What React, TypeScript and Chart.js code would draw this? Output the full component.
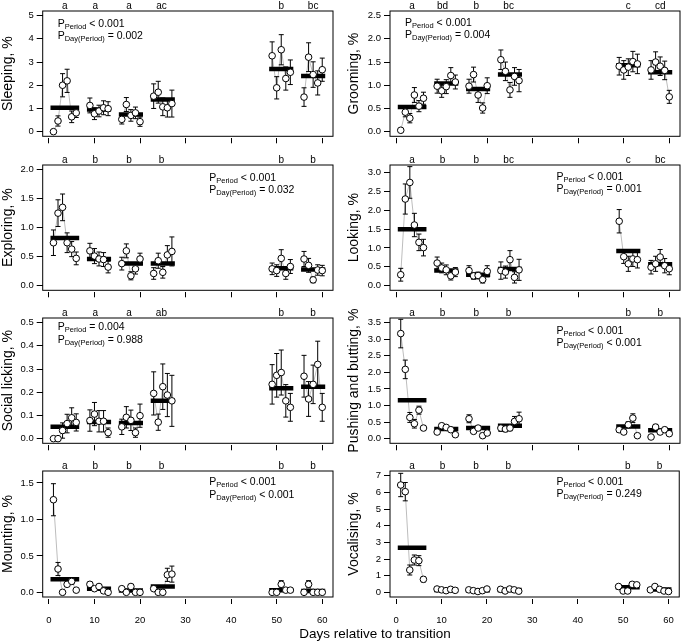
import React, { useEffect, useRef } from "react";
import { Chart, registerables } from "chart.js";

Chart.register(...registerables);

const FONT = '"Liberation Sans", Arial, Helvetica, sans-serif';
Chart.defaults.font.family = FONT;

// ---------------- data ----------------
const dayGroups = [
  [1, 2, 3, 4, 5, 6],
  [9, 10, 11, 12, 13],
  [16, 17, 18, 19, 20],
  [23, 24, 25, 26, 27],
  [49, 50, 51, 52, 53],
  [56, 57, 58, 59, 60],
];
const xTickValues = [0, 10, 20, 30, 40, 50, 60];
const letterPositions = [3.5, 10.2, 17.6, 24.7, 51, 58];
const xAxisTitle = "Days relative to transition";

const sleepingValues = [0, 0.46, 2.0, 2.19, 0.64, 0.81, 1.13, 0.77, 0.89, 1.03, 0.99, 0.53, 1.17, 0.7, 0.81, 0.43, 1.53, 1.7, 1.07, 1.03, 1.21, 3.27, 1.89, 3.53, 2.29, 2.56, 1.49, 3.21, 2.46, 2.1, 2.67];
const sleepingSE = [0, 0.22, 0.5, 0.5, 0.25, 0.2, 0.32, 0.25, 0.25, 0.3, 0.3, 0.2, 0.3, 0.25, 0.25, 0.2, 0.53, 0.47, 0.38, 0.4, 0.58, 0.6, 0.48, 0.65, 0.5, 0.53, 0.4, 0.62, 0.55, 0.52, 0.5];
const sleepingPeriodMeans = [1.03, 0.96, 0.74, 1.39, 2.7, 2.4];
const sleepingLetters = ["a", "a", "a", "ac", "b", "bc"];
const sleepingTicks = [0, 1, 2, 3, 4, 5];
const sleepingP = ["< 0.001", "= 0.002"];

const groomingValues = [0.03, 0.42, 0.29, 0.79, 0.55, 0.72, 0.98, 0.88, 0.97, 1.21, 1.07, 0.98, 1.23, 0.79, 0.51, 0.99, 1.55, 1.3, 0.9, 1.19, 1.1, 1.41, 1.33, 1.39, 1.51, 1.46, 1.33, 1.5, 1.41, 1.32, 0.75];
const groomingSE = [0.02, 0.1, 0.1, 0.16, 0.12, 0.13, 0.15, 0.14, 0.15, 0.17, 0.15, 0.15, 0.16, 0.16, 0.11, 0.17, 0.21, 0.2, 0.16, 0.19, 0.24, 0.19, 0.2, 0.18, 0.22, 0.21, 0.2, 0.22, 0.2, 0.2, 0.14];
const groomingPeriodMeans = [0.53, 1.04, 0.92, 1.23, 1.43, 1.28];
const groomingLetters = ["a", "bd", "b", "bc", "c", "cd"];
const groomingTicks = [0, 0.5, 1, 1.5, 2, 2.5];
const groomingP = ["< 0.001", "= 0.004"];

const exploringValues = [0.74, 1.25, 1.35, 0.74, 0.63, 0.47, 0.6, 0.51, 0.46, 0.45, 0.32, 0.38, 0.6, 0.17, 0.29, 0.46, 0.21, 0.43, 0.23, 0.53, 0.59, 0.29, 0.26, 0.47, 0.21, 0.33, 0.46, 0.35, 0.1, 0.27, 0.26];
const exploringSE = [0.22, 0.23, 0.23, 0.17, 0.13, 0.11, 0.13, 0.13, 0.12, 0.12, 0.1, 0.11, 0.12, 0.07, 0.09, 0.1, 0.1, 0.13, 0.1, 0.16, 0.25, 0.1, 0.1, 0.15, 0.1, 0.12, 0.13, 0.12, 0.05, 0.09, 0.09];
const exploringPeriodMeans = [0.82, 0.46, 0.38, 0.38, 0.3, 0.28];
const exploringLetters = ["a", "b", "b", "b", "b", "b"];
const exploringTicks = [0, 0.5, 1, 1.5, 2];
const exploringP = ["< 0.001", "= 0.032"];

const lookingValues = [0.29, 2.3, 2.74, 1.61, 1.15, 1.01, 0.6, 0.47, 0.42, 0.26, 0.36, 0.4, 0.26, 0.27, 0.16, 0.38, 0.4, 0.36, 0.69, 0.22, 0.42, 1.71, 0.77, 0.58, 0.71, 0.69, 0.49, 0.58, 0.76, 0.53, 0.45];
const lookingSE = [0.17, 0.4, 0.42, 0.31, 0.22, 0.22, 0.16, 0.13, 0.13, 0.11, 0.12, 0.13, 0.09, 0.09, 0.09, 0.15, 0.23, 0.16, 0.24, 0.15, 0.28, 0.31, 0.18, 0.2, 0.2, 0.22, 0.18, 0.2, 0.2, 0.19, 0.16];
const lookingPeriodMeans = [1.5, 0.4, 0.29, 0.44, 0.92, 0.57];
const lookingLetters = ["a", "b", "b", "bc", "c", "bc"];
const lookingTicks = [0, 0.5, 1, 1.5, 2, 2.5, 3];
const lookingP = ["< 0.001", "= 0.001"];

const lickingValues = [0, 0, 0.035, 0.065, 0.09, 0.07, 0.078, 0.106, 0.075, 0.075, 0.026, 0.051, 0.092, 0.079, 0.026, 0.099, 0.195, 0.071, 0.224, 0.188, 0.163, 0.234, 0.273, 0.285, 0.163, 0.135, 0.269, 0.171, 0.234, 0.32, 0.135];
const lickingSE = [0, 0, 0.033, 0.04, 0.043, 0.037, 0.046, 0.05, 0.046, 0.046, 0.02, 0.033, 0.046, 0.044, 0.02, 0.05, 0.093, 0.035, 0.098, 0.093, 0.11, 0.085, 0.094, 0.097, 0.07, 0.06, 0.09, 0.075, 0.083, 0.1, 0.06];
const lickingPeriodMeans = [0.051, 0.072, 0.068, 0.163, 0.217, 0.224];
const lickingLetters = ["a", "a", "a", "ab", "b", "b"];
const lickingTicks = [0, 0.1, 0.2, 0.3, 0.4, 0.5];
const lickingP = ["= 0.004", "= 0.988"];

const pushingValues = [3.17, 2.09, 0.64, 0.45, 0.86, 0.32, 0.2, 0.39, 0.34, 0.27, 0.12, 0.6, 0.22, 0.32, 0.09, 0.17, 0.32, 0.29, 0.32, 0.52, 0.6, 0.27, 0.2, 0.42, 0.62, 0.09, 0.05, 0.35, 0.2, 0.27, 0.15];
const pushingSE = [0.43, 0.28, 0.15, 0.13, 0.12, 0.07, 0.05, 0.07, 0.06, 0.05, 0.04, 0.12, 0.06, 0.07, 0.04, 0.05, 0.1, 0.08, 0.08, 0.15, 0.2, 0.07, 0.06, 0.09, 0.13, 0.04, 0.03, 0.08, 0.06, 0.07, 0.05];
const pushingPeriodMeans = [1.16, 0.29, 0.32, 0.39, 0.37, 0.25];
const pushingLetters = ["a", "b", "b", "b", "b", "b"];
const pushingTicks = [0, 0.5, 1, 1.5, 2, 2.5, 3, 3.5];
const pushingP = ["< 0.001", "< 0.001"];

const mountingValues = [1.27, 0.32, 0, 0.11, 0.15, 0.03, 0.11, 0.05, 0.08, 0.02, 0, 0.05, 0, 0.08, 0, 0, 0.05, 0, 0, 0.24, 0.25, 0, 0, 0.11, 0.03, 0.03, 0, 0.11, 0, 0, 0];
const mountingSE = [0.22, 0.09, 0, 0.03, 0.04, 0.02, 0.03, 0.02, 0.03, 0.01, 0, 0.02, 0, 0.03, 0, 0, 0.02, 0, 0, 0.09, 0.11, 0, 0, 0.05, 0.02, 0.02, 0, 0.05, 0, 0, 0];
const mountingPeriodMeans = [0.18, 0.05, 0.024, 0.08, 0.03, 0.02];
const mountingLetters = ["a", "b", "b", "b", "b", "b"];
const mountingTicks = [0, 0.5, 1, 1.5];
const mountingP = ["< 0.001", "< 0.001"];

const vocalisingValues = [6.44, 6.04, 1.34, 1.94, 1.9, 0.78, 0.2, 0.15, 0.1, 0.18, 0.12, 0.15, 0.1, 0.05, 0.1, 0.2, 0.18, 0.08, 0.2, 0.15, 0.07, 0.35, 0.08, 0.08, 0.48, 0.45, 0.15, 0.35, 0.18, 0.08, 0.05];
const vocalisingSE = [0.7, 0.55, 0.3, 0.3, 0.3, 0.15, 0.05, 0.04, 0.03, 0.05, 0.03, 0.04, 0.03, 0.02, 0.03, 0.05, 0.05, 0.02, 0.05, 0.04, 0.02, 0.08, 0.03, 0.03, 0.1, 0.1, 0.04, 0.08, 0.05, 0.03, 0.02];
const vocalisingPeriodMeans = [2.68, 0.14, 0.13, 0.14, 0.3, 0.17];
const vocalisingLetters = ["a", "b", "b", "b", "b", "b"];
const vocalisingTicks = [0, 1, 2, 3, 4, 5, 6, 7];
const vocalisingP = ["< 0.001", "= 0.249"];

// ---------------- panel definitions ----------------
type PanelDef = {
  title: string;
  values: number[];
  se: number[];
  periodMeans: number[];
  letters: string[];
  ticks: number[];
  yTop: number;
  decimals: number;
  p: string[];
  row: number;
  col: number;
  pRight: boolean;
  pDy: number;
};

const panels: PanelDef[] = [
  { title: "Sleeping, %", values: sleepingValues, se: sleepingSE, periodMeans: sleepingPeriodMeans, letters: sleepingLetters, ticks: sleepingTicks, yTop: 5, decimals: 0, p: sleepingP, row: 0, col: 0, pRight: false, pDy: 13 },
  { title: "Grooming, %", values: groomingValues, se: groomingSE, periodMeans: groomingPeriodMeans, letters: groomingLetters, ticks: groomingTicks, yTop: 2.5, decimals: 1, p: groomingP, row: 0, col: 1, pRight: false, pDy: 12 },
  { title: "Exploring, %", values: exploringValues, se: exploringSE, periodMeans: exploringPeriodMeans, letters: exploringLetters, ticks: exploringTicks, yTop: 2, decimals: 1, p: exploringP, row: 1, col: 0, pRight: true, pDy: 13 },
  { title: "Looking, %", values: lookingValues, se: lookingSE, periodMeans: lookingPeriodMeans, letters: lookingLetters, ticks: lookingTicks, yTop: 3.08, decimals: 1, p: lookingP, row: 1, col: 1, pRight: true, pDy: 12 },
  { title: "Social licking, %", values: lickingValues, se: lickingSE, periodMeans: lickingPeriodMeans, letters: lickingLetters, ticks: lickingTicks, yTop: 0.5, decimals: 1, p: lickingP, row: 2, col: 0, pRight: false, pDy: 9.5 },
  { title: "Pushing and butting, %", values: pushingValues, se: pushingSE, periodMeans: pushingPeriodMeans, letters: pushingLetters, ticks: pushingTicks, yTop: 3.5, decimals: 1, p: pushingP, row: 2, col: 1, pRight: true, pDy: 13 },
  { title: "Mounting, %", values: mountingValues, se: mountingSE, periodMeans: mountingPeriodMeans, letters: mountingLetters, ticks: mountingTicks, yTop: 1.6, decimals: 1, p: mountingP, row: 3, col: 0, pRight: true, pDy: 11.5 },
  { title: "Vocalising, %", values: vocalisingValues, se: vocalisingSE, periodMeans: vocalisingPeriodMeans, letters: vocalisingLetters, ticks: vocalisingTicks, yTop: 7, decimals: 0, p: vocalisingP, row: 3, col: 1, pRight: true, pDy: 11 },
];

// ---------------- layout ----------------
const COLS = [
  { left: 0, width: 340, yAxisW: 42.7, padRight: 7 },
  { left: 346, width: 339, yAxisW: 44, padRight: 2.5 },
];
const ROW_BOX_TOPS = [11, 164.5, 317.5, 471];
const BOX_H = 126;
const TOP_PAD = 11;
const X_MIN = -1.36;
const X_MAX = 62.36;

const boxPlugin = {
  id: "rBox",
  afterDatasetsDraw(chart: any) {
    const { ctx, chartArea } = chart;
    ctx.save();
    ctx.strokeStyle = "#000";
    ctx.lineWidth = 1;
    ctx.strokeRect(chartArea.left, chartArea.top, chartArea.right - chartArea.left, chartArea.bottom - chartArea.top);
    ctx.restore();
  },
};

// significance letters above the plot, placed through the x scale
const lettersPlugin = {
  id: "sigLetters",
  afterDraw(chart: any, _args: any, opts: any) {
    const { ctx, chartArea, scales } = chart;
    ctx.save();
    ctx.fillStyle = "#000";
    ctx.font = `10px ${FONT}`;
    ctx.textAlign = "center";
    ctx.textBaseline = "alphabetic";
    opts.letters.forEach((l: string, i: number) => {
      ctx.fillText(l, scales.x.getPixelForValue(letterPositions[i]), chartArea.top - 2.5);
    });
    ctx.restore();
  },
};

const pTextPlugin = {
  id: "pText",
  afterDatasetsDraw(chart: any, _args: any, opts: any) {
    const { ctx, chartArea } = chart;
    const x0 = chartArea.left + (opts.right ? 166.5 : 15);
    const subs = ["Period", "Day(Period)"];
    ctx.save();
    ctx.fillStyle = "#000";
    ctx.textBaseline = "middle";
    ctx.textAlign = "left";
    opts.lines.forEach((rest: string, i: number) => {
      const y = chartArea.top + opts.dy + i * 12.5;
      let x = x0;
      ctx.font = `10.5px ${FONT}`;
      ctx.fillText("P", x, y);
      x += ctx.measureText("P").width;
      ctx.font = `7.5px ${FONT}`;
      ctx.fillText(subs[i], x, y + 2.5);
      x += ctx.measureText(subs[i]).width;
      ctx.font = `10.5px ${FONT}`;
      ctx.fillText(" " + rest, x, y);
    });
    ctx.restore();
  },
};

function buildDatasets(p: PanelDef) {
  const points: any[] = [];
  const grey: any[] = [];
  const errs: any[] = [];
  const bars: any[] = [];
  let k = 0;
  dayGroups.forEach((g, j) => {
    g.forEach((d) => {
      const v = p.values[k];
      const s = p.se[k];
      points.push({ x: d, y: v });
      grey.push({ x: d, y: v });
      errs.push({ x: d, y: v - s }, { x: d, y: v + s }, { x: d, y: null });
      k++;
    });
    const last = g[g.length - 1];
    grey.push({ x: last + 0.5, y: null });
    bars.push({ x: g[0] - 0.65, y: p.periodMeans[j] }, { x: last + 0.65, y: p.periodMeans[j] }, { x: last + 0.65, y: null });
  });
  return [
    {
      data: points,
      showLine: false,
      pointRadius: 3.3,
      pointBackgroundColor: "#fff",
      pointBorderColor: "#000",
      pointBorderWidth: 1,
      order: 0,
    },
    {
      data: bars,
      showLine: true,
      spanGaps: false,
      borderColor: "#000",
      borderWidth: 4.5,
      borderCapStyle: "butt",
      pointRadius: 0,
      order: 1,
    },
    {
      data: errs,
      showLine: true,
      spanGaps: false,
      borderColor: "#000",
      borderWidth: 1,
      pointStyle: "line",
      pointRadius: 2.5,
      pointBorderColor: "#000",
      pointBorderWidth: 1,
      order: 2,
    },
    {
      data: grey,
      showLine: true,
      spanGaps: false,
      borderColor: "#bdbdbd",
      borderWidth: 1,
      pointRadius: 0,
      order: 3,
    },
  ];
}

function Panel({ p }: { p: PanelDef }) {
  const ref = useRef<HTMLCanvasElement | null>(null);
  const col = COLS[p.col];
  const bottomRow = p.row === 3;
  const xAxisH = bottomRow ? 30 : 8;
  const top = ROW_BOX_TOPS[p.row] - TOP_PAD;
  const height = TOP_PAD + BOX_H + xAxisH;

  useEffect(() => {
    if (!ref.current) return;
    const pad = p.yTop * 0.04;
    const chart = new Chart(ref.current, {
      type: "scatter",
      data: { datasets: buildDatasets(p) as any },
      plugins: [boxPlugin, pTextPlugin, lettersPlugin],
      options: {
        animation: false,
        responsive: true,
        maintainAspectRatio: false,
        events: [],
        layout: { padding: { left: 0, right: col.padRight, top: TOP_PAD, bottom: 0 } },
        plugins: {
          legend: { display: false },
          tooltip: { enabled: false },
          pText: { lines: p.p, right: p.pRight, dy: p.pDy },
          sigLetters: { letters: p.letters },
        } as any,
        scales: {
          x: {
            type: "linear",
            position: "bottom",
            min: X_MIN,
            max: X_MAX,
            afterBuildTicks: (s: any) => {
              s.ticks = xTickValues.map((v) => ({ value: v }));
            },
            afterFit: (s: any) => {
              s.height = xAxisH;
            },
            grid: { drawOnChartArea: false, drawTicks: true, tickLength: 7, color: "#000", lineWidth: 1 },
            border: { display: true, width: 4, color: "rgba(0,0,0,0)" },
            ticks: {
              display: bottomRow,
              padding: 11,
              color: "#000",
              font: { size: 9.5, family: FONT },
              maxRotation: 0,
              autoSkip: false,
              callback: (v: any) => String(v),
            },
          },
          y: {
            type: "linear",
            min: -pad,
            max: p.yTop + pad,
            afterBuildTicks: (s: any) => {
              s.ticks = p.ticks.map((v) => ({ value: v }));
            },
            afterFit: (s: any) => {
              s.width = col.yAxisW;
            },
            grid: { drawOnChartArea: false, drawTicks: true, tickLength: 6, color: "#000", lineWidth: 1 },
            border: { display: false },
            ticks: {
              padding: 3,
              color: "#000",
              font: { size: 9.5, family: FONT },
              autoSkip: false,
              callback: (v: any) => Number(v).toFixed(p.decimals),
            },
            title: {
              display: true,
              text: p.title,
              color: "#000",
              font: { size: 14, family: FONT },
              padding: 0,
            },
          },
        } as any,
      },
    });
    return () => chart.destroy();
  }, []);

  return (
    <div style={{ position: "absolute", left: col.left, top, width: col.width, height }}>
      <canvas ref={ref} />
    </div>
  );
}

export default function App() {
  return (
    <div style={{ position: "absolute", left: 0, top: 0, width: 685, height: 643, background: "#fff", overflow: "hidden" }}>
      {panels.map((p, i) => (
        <Panel key={i} p={p} />
      ))}
      <div
        style={{
          position: "absolute",
          left: 225,
          width: 300,
          top: 626,
          textAlign: "center",
          fontFamily: FONT,
          fontSize: 13.5,
          lineHeight: "16px",
          color: "#000",
        }}
      >
        {xAxisTitle}
      </div>
    </div>
  );
}
